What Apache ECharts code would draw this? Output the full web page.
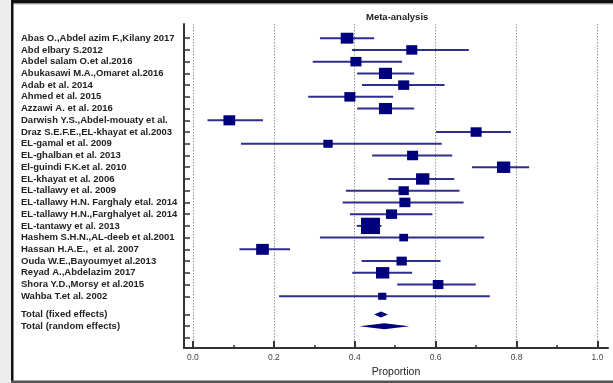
<!DOCTYPE html>
<html><head><meta charset="utf-8">
<script src="https://cdn.jsdelivr.net/npm/echarts@6/dist/echarts.min.js"></script>
<style>html,body{margin:0;padding:0;background:#fff}#c{width:613px;height:383px}</style>
</head><body><div id="c"></div>
<script>
const studies = [
  'Abas O.,Abdel azim F.,Kilany 2017',
  'Abd elbary S.2012',
  'Abdel salam O.et al.2016',
  'Abukasawi M.A.,Omaret al.2016',
  'Adab et al. 2014',
  'Ahmed et al. 2015',
  'Azzawi A. et al. 2016',
  'Darwish Y.S.,Abdel-mouaty et al.',
  'Draz S.E.F.E.,EL-khayat et al.2003',
  'EL-gamal et al. 2009',
  'EL-ghalban et al. 2013',
  'El-guindi F.K.et al. 2010',
  'EL-khayat et al. 2006',
  'EL-tallawy et al. 2009',
  'EL-tallawy H.N. Farghaly etal. 2014',
  'EL-tallawy H.N.,Farghalyet al. 2014',
  'EL-tantawy et al. 2013',
  'Hashem S.H.N.,AL-deeb et al.2001',
  'Hassan H.A.E.,  et al. 2007',
  'Ouda W.E.,Bayoumyet al.2013',
  'Reyad A.,Abdelazim 2017',
  'Shora Y.D.,Morsy et al.2015',
  'Wahba T.et al. 2002'
];
const estimates = [0.381,0.541,0.403,0.476,0.521,0.388,0.476,0.090,0.700,0.334,0.543,0.768,0.568,0.521,0.524,0.491,0.439,0.521,0.172,0.516,0.469,0.606,0.468];
const lower     = [0.314,0.393,0.296,0.406,0.418,0.285,0.406,0.036,0.601,0.119,0.443,0.690,0.483,0.378,0.370,0.388,0.405,0.314,0.115,0.417,0.394,0.505,0.213];
const upper     = [0.448,0.682,0.517,0.547,0.622,0.495,0.547,0.173,0.786,0.615,0.641,0.831,0.646,0.659,0.669,0.592,0.466,0.720,0.240,0.612,0.542,0.699,0.734];
const weights   = [5.0,3.8,3.8,5.3,3.8,3.8,5.3,4.3,3.8,2.7,3.8,5.5,5.5,3.3,3.8,3.8,11.2,2.4,5.0,3.3,5.5,3.5,2.1];

const totalLabels = ['Total (fixed effects)', 'Total (random effects)'];
const totalEst    = [0.465, 0.473];
const totalLower  = [0.448, 0.412];
const totalUpper  = [0.482, 0.535];

const xTicks = [0, 0.2, 0.4, 0.6, 0.8, 1.0];
const xMinorTicks = [0.1, 0.3, 0.5, 0.7, 0.9];

// row layout (vertical positions on the hidden row scale)
const studyRows = studies.map((s, i) => i + 1);
const totalRows = totalLabels.map((s, j) => studies.length + 1.55 + j);
const extraTick = studies.length + 1.55 + totalLabels.length;
const allLabels = studies.concat(totalLabels);
const labelRows = studyRows.concat(totalRows);
const tickRows = labelRows.concat([extraTick]);

const ciData = studies.map((s, i) => [studyRows[i], lower[i], upper[i], estimates[i], weights[i]]);
const totData = totalLabels.map((s, j) => [totalRows[j], totalLower[j], totalUpper[j], totalEst[j]]);

const FONT = '"Liberation Sans", Arial, sans-serif';
const chart = echarts.init(document.getElementById('c'));
chart.setOption({
  animation: false,
  backgroundColor: '#fff',
  title: {
    text: 'Meta-analysis', left: 366, top: 12, padding: 0,
    textStyle: { fontSize: 9.5, fontWeight: 'bold', color: '#222', fontFamily: FONT }
  },
  grid: { left: 184, right: 5, top: 24, bottom: 35 },
  xAxis: [{
    type: 'value', min: -0.022, max: 1.026, position: 'bottom',
    axisLine: { show: true, onZero: false, lineStyle: { color: '#333', width: 2 } },
    axisTick: { show: true, customValues: xTicks, inside: true, length: 7, lineStyle: { color: '#333', width: 2 } },
    axisLabel: { customValues: xTicks, formatter: v => v.toFixed(1), fontSize: 8.5, color: '#444', margin: 5, fontFamily: FONT },
    splitLine: { show: true, lineStyle: { color: '#999', type: [1.5, 1.5], width: 1 } },
    name: 'Proportion', nameLocation: 'middle', nameGap: 17,
    nameTextStyle: { fontSize: 10.5, color: '#222', fontFamily: FONT }
  }, {
    type: 'value', min: -0.022, max: 1.026, position: 'bottom', gridIndex: 0,
    axisLine: { show: false, onZero: false },
    axisTick: { show: true, customValues: xMinorTicks, inside: true, length: 3, lineStyle: { color: '#333', width: 1.5 } },
    axisLabel: { show: false }, splitLine: { show: false }
  }],
  yAxis: {
    type: 'value', inverse: true, min: -0.21, max: 27.41,
    axisLine: { show: true, onZero: false, lineStyle: { color: '#333', width: 2 } },
    axisTick: { show: true, customValues: tickRows, inside: true, length: 6, lineStyle: { color: '#333', width: 1.5 } },
    axisLabel: {
      customValues: labelRows,
      formatter: v => { const k = labelRows.findIndex(r => Math.abs(r - v) < 1e-6); return k >= 0 ? allLabels[k] : ''; },
      align: 'left', margin: 163, fontSize: 9.5, fontWeight: 'bold', color: '#222', fontFamily: FONT
    },
    splitLine: { show: false }
  },
  series: [{
    type: 'custom', xAxisIndex: 0, yAxisIndex: 0,
    data: ciData,
    encode: { x: [1, 2, 3], y: 0 },
    renderItem: (params, api) => {
      const y = api.value(0);
      const a = api.coord([api.value(1), y]);
      const b = api.coord([api.value(2), y]);
      const c = api.coord([api.value(3), y]);
      const w = Math.sqrt(api.value(4) * 32.14);
      const h = w * 0.86;
      return { type: 'group', children: [
        { type: 'line', shape: { x1: a[0], y1: a[1], x2: b[0], y2: b[1] }, style: { stroke: '#2e2e8c', lineWidth: 2 } },
        { type: 'rect', shape: { x: c[0] - w / 2, y: c[1] - h / 2, width: w, height: h }, style: { fill: '#00007c' } }
      ] };
    }
  }, {
    type: 'custom', xAxisIndex: 0, yAxisIndex: 0,
    data: totData,
    encode: { x: [1, 2, 3], y: 0 },
    renderItem: (params, api) => {
      const y = api.value(0);
      const a = api.coord([api.value(1), y]);
      const b = api.coord([api.value(2), y]);
      const c = api.coord([api.value(3), y]);
      const hh = 3;
      return { type: 'polygon', shape: { points: [[a[0], a[1]], [c[0], c[1] - hh], [b[0], b[1]], [c[0], c[1] + hh]] }, style: { fill: '#00007c' } };
    }
  }],
  graphic: [
    { type: 'rect', shape: { x: 0, y: 0, width: 11, height: 383 }, style: { fill: '#ececec' }, silent: true },
    { type: 'rect', shape: { x: 11, y: 0, width: 602, height: 3.5 }, style: { fill: '#111' }, silent: true },
    { type: 'rect', shape: { x: 11, y: 3.5, width: 602, height: 1 }, style: { fill: '#aaa' }, silent: true },
    { type: 'rect', shape: { x: 11, y: 0, width: 2.5, height: 383 }, style: { fill: '#111' }, silent: true },
    { type: 'rect', shape: { x: 11, y: 380.5, width: 602, height: 2.5 }, style: { fill: '#555' }, silent: true }
  ]
});
</script></body></html>
